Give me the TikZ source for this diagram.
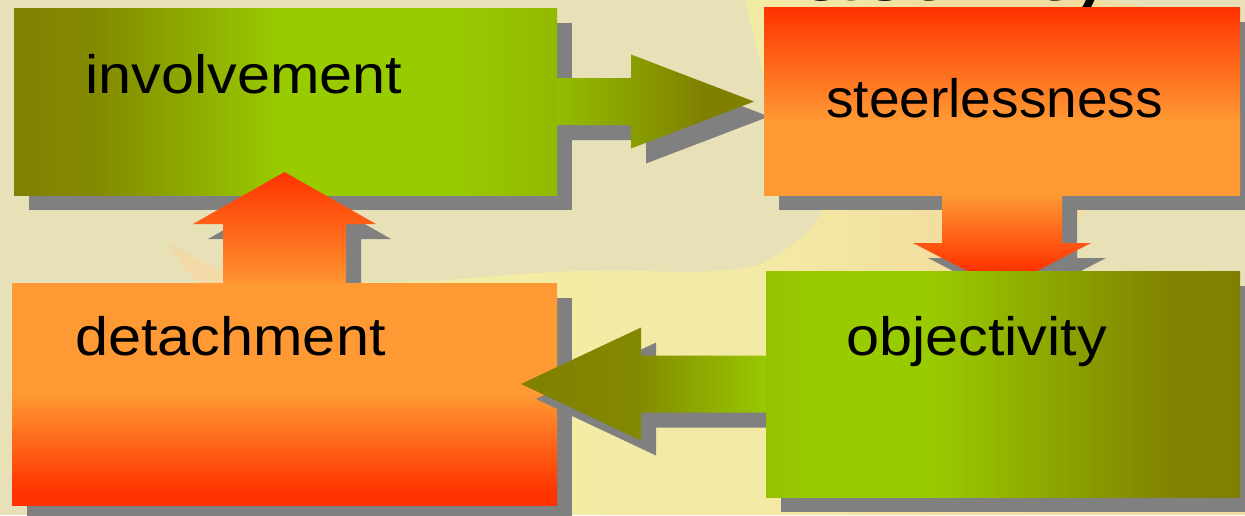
\documentclass[tikz,border=0pt]{standalone}
\usepackage{fontspec}
\usepackage{graphicx}
\setmainfont{Liberation Sans}
\usetikzlibrary{calc}

% palette
\definecolor{bgbeige}{HTML}{E8E0B7}
\definecolor{shadowgray}{HTML}{808080}
\definecolor{cOlive}{HTML}{808000}
\definecolor{cLime}{HTML}{99CC00}
\definecolor{cRed}{HTML}{FF3300}
\definecolor{cOrange}{HTML}{FF9933}
\definecolor{swA}{HTML}{F3D6A8}
\definecolor{swB}{HTML}{F3E4A6}
\definecolor{swC}{HTML}{F3ECA5}
\definecolor{swD}{HTML}{F3EBA5}
\definecolor{swE}{HTML}{F2DEA0}
\definecolor{swF}{HTML}{F2DCA0}

% gradients (the path's box maps onto 25bp..75bp)
\pgfdeclarehorizontalshading{invshade}{100bp}{color(0bp)=(cOlive); color(25bp)=(cOlive);
  color(33bp)=(cOlive!85!cLime); color(50bp)=(cLime); color(64bp)=(cLime);
  color(75bp)=(cLime!75!cOlive); color(100bp)=(cLime!75!cOlive)}
\pgfdeclarehorizontalshading{objshade}{100bp}{color(0bp)=(cLime!85!cOlive); color(25bp)=(cLime!85!cOlive);
  color(30bp)=(cLime); color(42bp)=(cLime); color(67bp)=(cOlive!95!cLime);
  color(75bp)=(cOlive); color(100bp)=(cOlive)}
\pgfdeclarehorizontalshading{rarrshade}{100bp}{color(0bp)=(cLime!80!cOlive); color(25bp)=(cLime!80!cOlive);
  color(62bp)=(cOlive); color(100bp)=(cOlive)}
\pgfdeclarehorizontalshading{larrshade}{100bp}{color(0bp)=(cOlive); color(25bp)=(cOlive);
  color(48bp)=(cOlive!90!cLime); color(75bp)=(cLime!95!cOlive); color(100bp)=(cLime!95!cOlive)}
% vertical shadings run from bottom (0bp) to top (100bp)
\pgfdeclareverticalshading{steershade}{100bp}{color(0bp)=(cOrange); color(25bp)=(cOrange);
  color(45bp)=(cOrange); color(75bp)=(cRed); color(100bp)=(cRed)}
\pgfdeclareverticalshading{detshade}{100bp}{color(0bp)=(cRed); color(25bp)=(cRed);
  color(28bp)=(cRed); color(50bp)=(cOrange); color(75bp)=(cOrange); color(100bp)=(cOrange)}
\pgfdeclareverticalshading{uparrshade}{100bp}{color(0bp)=(cOrange!95!cRed); color(25bp)=(cOrange!95!cRed);
  color(75bp)=(cRed); color(100bp)=(cRed)}
\pgfdeclareverticalshading{downarrshade}{100bp}{color(0bp)=(cRed); color(25bp)=(cRed);
  color(35bp)=(cRed); color(75bp)=(cOrange); color(100bp)=(cOrange)}
\pgfdeclarehorizontalshading{blobshade}{100bp}{color(0bp)=(swA); color(25bp)=(swA);
  color(31bp)=(swB); color(38bp)=(swC); color(52bp)=(swD);
  color(61bp)=(swE); color(75bp)=(swF); color(100bp)=(swF)}

\pgfdeclarelayer{backdrop}
\pgfdeclarelayer{shadows}
\pgfdeclarelayer{front}
\pgfsetlayers{backdrop,shadows,main,front}

% corner points of a block arrow: name, tail, tip, shaft half width, head half width, head length
\newcommand\setblockarrow[6]{%
  \coordinate (#1-tail) at (#2);
  \coordinate (#1-tip) at (#3);
  \coordinate (#1-base) at ($(#1-tip)!#6!(#1-tail)$);
  \coordinate (#1-t1) at ($(#1-tail)!#4!90:(#1-tip)$);
  \coordinate (#1-t2) at ($(#1-tail)!#4!-90:(#1-tip)$);
  \coordinate (#1-b1) at ($(#1-base)!#4!-90:(#1-tail)$);
  \coordinate (#1-b2) at ($(#1-base)!#4!90:(#1-tail)$);
  \coordinate (#1-h1) at ($(#1-base)!#5!-90:(#1-tail)$);
  \coordinate (#1-h2) at ($(#1-base)!#5!90:(#1-tail)$);
}

\begin{document}
\begin{tikzpicture}[x=1pt,y=-1pt,
  box/.style={rectangle, draw=none, inner sep=0pt, outer sep=0pt, anchor=north west},
  lbl/.style={anchor=base west, inner sep=0pt, text=black, font=\fontsize{54}{60}\selectfont},
  arrowshape/.style 2 args={insert path={([shift={#2}]#1-t1) -- ([shift={#2}]#1-b1) -- ([shift={#2}]#1-h1)
     -- ([shift={#2}]#1-tip) -- ([shift={#2}]#1-h2) -- ([shift={#2}]#1-b2) -- ([shift={#2}]#1-t2) -- cycle}},
  boxshadow/.style={insert path={([shift={(15,15)}]#1.north west) rectangle ([shift={(15,15)}]#1.south east)}}]
\useasboundingbox (0,0) rectangle (1245,515);
\clip (0,0) rectangle (1245,515);

\begin{pgfonlayer}{backdrop}
  \fill[bgbeige] (0,0) rectangle (1245,515);
  % pale swoosh behind the boxes
  \shade[shading=blobshade] (170,243)
    .. controls (190,256) and (205,265) .. (225,270)
    .. controls (300,284) and (390,283) .. (450,280)
    .. controls (520,274) and (570,269) .. (640,271)
    .. controls (700,273) and (745,272) .. (765,262)
    .. controls (795,246) and (815,228) .. (823,210)
    .. controls (810,160) and (775,110) .. (764,78)
    -- (745,0) -- (1096,0)
    .. controls (1120,3) and (1140,5) .. (1150,10)
    .. controls (1180,80) and (1100,180) .. (1068,240)
    .. controls (1040,300) and (1100,450) .. (1245,480)
    -- (1245,515) -- (520,515)
    .. controls (400,420) and (260,330) .. (200,283)
    .. controls (185,270) and (175,256) .. (170,243) -- cycle;
  % heading above the picture, only its lowest edge shows
  \node[anchor=base west, inner sep=0pt, font=\fontsize{94}{104}\selectfont] (title) at (800,0)
    {\scalebox{1.1}[1]{activity}};
\end{pgfonlayer}

% boxes
\node[box, shading=invshade, minimum width=543pt, minimum height=187pt] (inv) at (14,8) {};
\node[lbl] (inv-txt) at ($(inv.north west)+(71,85)$) {\scalebox{1.1}[1]{involvement}};
\node[box, shading=steershade, minimum width=476pt, minimum height=188pt] (steer) at (764,7) {};
\node[lbl] (steer-txt) at ($(steer.north west)+(62,110)$) {\scalebox{1.02}[1]{steerlessness}};
\node[box, shading=detshade, minimum width=545pt, minimum height=222pt] (det) at (12,283) {};
\node[lbl] (det-txt) at ($(det.north west)+(63,72)$) {\scalebox{1.1}[1]{detachment}};
\begin{pgfonlayer}{front}
  \node[box, shading=objshade, minimum width=474pt, minimum height=226pt] (obj) at (766,271) {};
  \node[lbl] (obj-txt) at ($(obj.north west)+(80,84)$) {\scalebox{1.1}[1]{objectivity}};
\end{pgfonlayer}

% block arrows between the boxes
\setblockarrow{ra}{inv.east}{$(inv.east -| steer.west)+(-10,0)$}{23.5pt}{47pt}{123pt}
\setblockarrow{da}{steer.south}{$(steer.south |- obj.north)+(0,18)$}{60pt}{89pt}{46pt}
\setblockarrow{ua}{det.north}{$(det.north |- inv.south)+(0,-23)$}{61.5pt}{91.5pt}{52pt}
\setblockarrow{la}{obj.west}{$(obj.west -| det.east)+(-36,0)$}{28.5pt}{56.5pt}{120pt}

\begin{pgfonlayer}{shadows}
  \fill[shadowgray, boxshadow=inv];
  \fill[shadowgray, boxshadow=steer];
  \fill[shadowgray, boxshadow=det];
  \fill[shadowgray, boxshadow=obj];
  \fill[shadowgray, arrowshape={ra}{(15,15)}];
  \fill[shadowgray, arrowshape={da}{(15,15)}];
  \fill[shadowgray, arrowshape={ua}{(15,15)}];
\end{pgfonlayer}

\shade[shading=rarrshade, arrowshape={ra}{(0,0)}];
\shade[shading=downarrshade, arrowshape={da}{(0,0)}];
\shade[shading=uparrshade, arrowshape={ua}{(0,0)}];
\fill[shadowgray, arrowshape={la}{(15,15)}];
\begin{pgfonlayer}{front}
  \shade[shading=larrshade, arrowshape={la}{(0,0)}];
\end{pgfonlayer}
\end{tikzpicture}
\end{document}
